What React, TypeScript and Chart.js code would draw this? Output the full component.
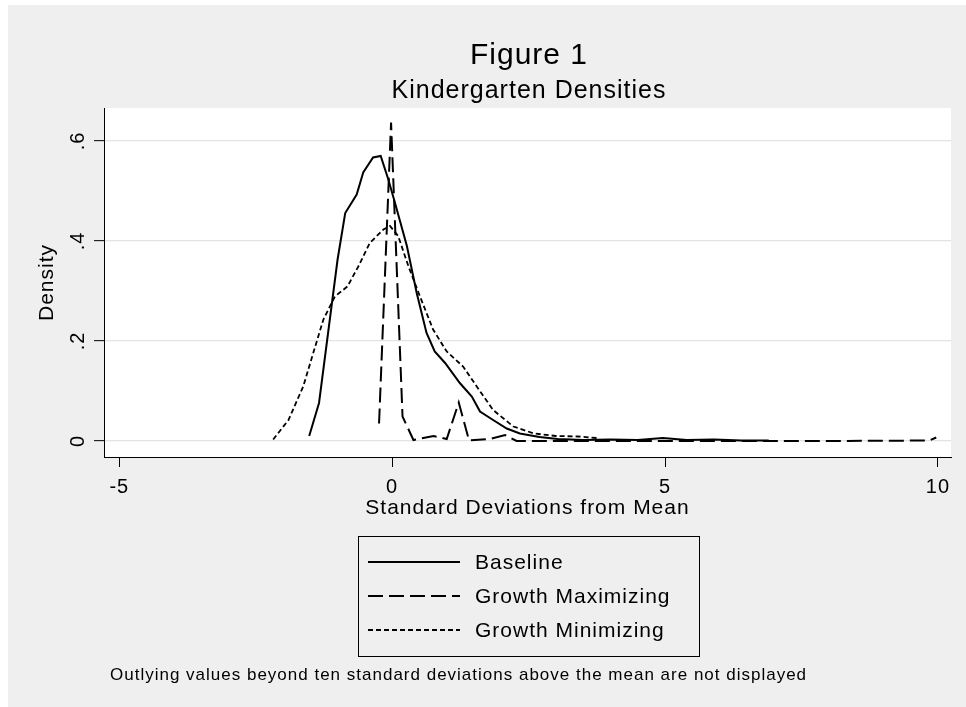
import React, { useEffect, useRef } from "react";
import { Chart, registerables } from "chart.js";

Chart.register(...registerables);

const FONT = '"Liberation Sans", Arial, Helvetica, sans-serif';

// ---- Data ----
const seriesLabels = ["Baseline", "Growth Maximizing", "Growth Minimizing"];

const baselineX = [-1.52, -1.34, -1.0, -0.86, -0.65, -0.53, -0.35, -0.21, -0.07, 0.05, 0.27, 0.45, 0.63, 0.78, 0.97, 1.24, 1.46, 1.61, 1.85, 2.1, 2.34, 2.7, 3.03, 3.5, 4.0, 4.5, 4.96, 5.4, 5.9, 6.4, 6.9];
const baselineY = [0.01, 0.076, 0.363, 0.456, 0.493, 0.537, 0.567, 0.57, 0.523, 0.477, 0.39, 0.296, 0.216, 0.179, 0.156, 0.116, 0.089, 0.059, 0.042, 0.025, 0.015, 0.008, 0.004, 0.002, 0.003, 0.002, 0.006, 0.002, 0.003, 0.001, 0.001];

const growthMaxX = [-0.24, -0.02, 0.19, 0.39, 0.76, 1.0, 1.22, 1.41, 1.79, 2.07, 2.28, 4.0, 6.0, 8.0, 9.84, 9.97];
const growthMaxY = [0.035, 0.637, 0.049, 0.002, 0.01, 0.004, 0.077, 0.001, 0.004, 0.012, 0.0, 0.0, 0.0, 0.0, 0.001, 0.007];

const growthMinX = [-2.18, -1.9, -1.63, -1.41, -1.26, -1.05, -0.82, -0.62, -0.41, -0.16, -0.04, 0.11, 0.3, 0.51, 0.75, 1.0, 1.3, 1.55, 1.85, 2.22, 2.6, 3.0, 3.4, 3.75];
const growthMinY = [0.003, 0.042, 0.109, 0.189, 0.243, 0.289, 0.309, 0.349, 0.396, 0.423, 0.43, 0.41, 0.349, 0.289, 0.223, 0.179, 0.149, 0.109, 0.062, 0.029, 0.015, 0.01, 0.009, 0.006];

const xTickValues = [-5, 0, 5, 10];
const yTickValues = [0, 0.2, 0.4, 0.6];
const yTickLabels = ["0", ".2", ".4", ".6"];

const titleText = "Figure 1";
const subtitleText = "Kindergarten Densities";
const xAxisTitle = "Standard Deviations from Mean";
const yAxisTitle = "Density";
const noteText = "Outlying values beyond ten standard deviations above the mean are not displayed";

const toPoints = (xs: number[], ys: number[]) => xs.map((x, i) => ({ x, y: ys[i] }));

const SPACING = "1px";

const decorPlugin = {
  id: "decor",
  beforeUpdate(chart: any) {
    chart.ctx.letterSpacing = SPACING;
  },
  beforeDraw(chart: any) {
    const { ctx, chartArea: a } = chart;
    ctx.letterSpacing = SPACING;
    ctx.save();
    ctx.fillStyle = "#ffffff";
    ctx.fillRect(a.left, a.top, a.right - a.left, a.bottom - a.top);
    ctx.restore();
  },
  afterDraw(chart: any) {
    const ctx = chart.ctx;
    ctx.save();
    ctx.letterSpacing = SPACING;
    ctx.fillStyle = "#000000";
    ctx.textAlign = "center";
    ctx.textBaseline = "alphabetic";
    ctx.font = `30px ${FONT}`;
    ctx.fillText(titleText, 521, 59);
    ctx.font = `25px ${FONT}`;
    ctx.fillText(subtitleText, 521, 93);

    // legend box
    const l = 350, t = 531, r = 691, b = 651;
    ctx.strokeStyle = "#000000";
    ctx.lineWidth = 1;
    ctx.strokeRect(l + 0.5, t + 0.5, r - l, b - t);
    const rowY = [558, 592, 626];
    chart.data.datasets.forEach((ds: any, i: number) => {
      ctx.save();
      ctx.strokeStyle = ds.borderColor;
      ctx.lineWidth = ds.borderWidth;
      ctx.setLineDash(ds.legendDash || ds.borderDash || []);
      ctx.beginPath();
      ctx.moveTo(360, rowY[i] - 1);
      ctx.lineTo(452, rowY[i] - 1);
      ctx.stroke();
      ctx.restore();
      ctx.textAlign = "left";
      ctx.textBaseline = "middle";
      ctx.font = `21px ${FONT}`;
      ctx.fillText(ds.label, 467, rowY[i]);
    });

    ctx.textAlign = "left";
    ctx.textBaseline = "alphabetic";
    ctx.font = `17px ${FONT}`;
    ctx.fillText(noteText, 102, 675);
    ctx.restore();
  },
};

export default function App() {
  const canvasRef = useRef<HTMLCanvasElement | null>(null);

  useEffect(() => {
    if (!canvasRef.current) return;
    const chart = new Chart(canvasRef.current, {
      type: "line",
      data: {
        datasets: [
          {
            label: seriesLabels[0],
            data: toPoints(baselineX, baselineY),
            borderColor: "#000000",
            borderWidth: 2,
            borderDash: [],
            pointRadius: 0,
            fill: false,
            tension: 0,
          },
          {
            label: seriesLabels[1],
            data: toPoints(growthMaxX, growthMaxY),
            borderColor: "#000000",
            borderWidth: 2,
            borderDash: [15, 6],
            pointRadius: 0,
            fill: false,
            tension: 0,
          },
          {
            label: seriesLabels[2],
            data: toPoints(growthMinX, growthMinY),
            borderColor: "#000000",
            borderWidth: 1.8,
            borderDash: [5, 3],
            pointRadius: 0,
            fill: false,
            tension: 0,
          },
        ] as any,
      },
      options: {
        animation: false,
        responsive: false,
        events: [],
        layout: { padding: { left: 0, top: 103, right: 15, bottom: 186 } },
        plugins: {
          legend: { display: false },
          title: { display: false },
          tooltip: { enabled: false },
        },
        scales: {
          x: {
            type: "linear",
            min: -5.28,
            max: 10.24,
            afterBuildTicks: (s: any) => {
              s.ticks = xTickValues.map((v) => ({ value: v }));
            },
            afterFit: (s: any) => {
              s.height = 64;
            },
            ticks: {
              color: "#000000",
              font: { family: FONT, size: 20 },
              padding: 8,
              maxRotation: 0,
              minRotation: 0,
              callback: (v: any) => String(v),
            },
            grid: {
              drawOnChartArea: false,
              tickColor: "#000000",
              tickLength: 10,
              tickWidth: 1,
            },
            border: { display: true, color: "#000000", width: 1 },
            title: {
              display: true,
              text: xAxisTitle,
              color: "#000000",
              font: { family: FONT, size: 21 },
              padding: { top: 0, bottom: 0 },
            },
          },
          y: {
            type: "linear",
            min: -0.032,
            max: 0.666,
            afterBuildTicks: (s: any) => {
              s.ticks = yTickValues.map((v) => ({ value: v }));
            },
            afterFit: (s: any) => {
              s.width = 96;
            },
            ticks: {
              color: "#000000",
              font: { family: FONT, size: 20 },
              padding: 6,
              minRotation: 90,
              maxRotation: 90,
              crossAlign: "center",
              callback: (v: any) => {
                const i = yTickValues.findIndex((t) => Math.abs(t - v) < 1e-9);
                return i >= 0 ? yTickLabels[i] : "";
              },
            },
            grid: {
              color: "#e3e3e3",
              lineWidth: 1.3,
              tickColor: "#000000",
              tickLength: 10,
              tickWidth: 1,
            },
            border: { display: true, color: "#000000", width: 1 },
            title: {
              display: true,
              text: yAxisTitle,
              color: "#000000",
              font: { family: FONT, size: 21 },
              padding: { top: 27, bottom: 0 },
            },
          },
        },
      } as any,
      plugins: [decorPlugin],
    });
    return () => chart.destroy();
  }, []);

  return (
    <div
      style={{
        position: "absolute",
        left: 8,
        top: 5,
        width: 958,
        height: 702,
        background: "#efefef",
      }}
    >
      <canvas ref={canvasRef} width={958} height={702} style={{ display: "block" }} />
    </div>
  );
}
